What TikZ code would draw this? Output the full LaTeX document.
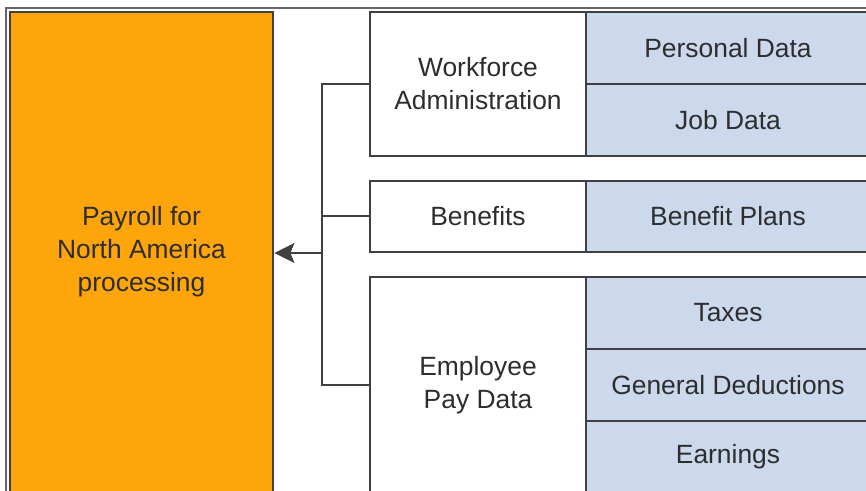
\documentclass[tikz,border=0pt]{standalone}
\usepackage{fontspec}
\setmainfont{Liberation Sans}
\usepackage{xcolor}
\usetikzlibrary{arrows.meta,positioning}
\definecolor{payorange}{RGB}{255,165,12}
\definecolor{cellblue}{RGB}{204,217,236}
\definecolor{edgegray}{RGB}{64,64,64}
\definecolor{textgray}{RGB}{45,45,45}

\begin{document}
\begin{tikzpicture}[
    x=0.5pt,y=-0.5pt,
    every node/.style={font=\fontsize{13.2}{16.5}\selectfont,text=textgray,align=center,inner sep=0pt},
    target/.style={rectangle,draw=edgegray,fill=payorange,line width=1.4pt,
      minimum width=131.5pt,minimum height=240pt},
    group/.style={rectangle,draw=edgegray,fill=white,line width=1.2pt,minimum width=108pt},
    item/.style={rectangle,draw=edgegray,fill=cellblue,line width=1.2pt,
      minimum width=142pt,minimum height=36pt},
    link/.style={draw=edgegray,line width=1pt},
    arrow/.style={link,-{Stealth[length=10pt,width=10pt,inset=2pt]}}
  ]
    \useasboundingbox (0,0) rectangle (866,491);
    \clip (0,0) rectangle (866,491);
    \draw[gray!80!black,line width=0.7pt] (6,8) rectangle (900,520);

    \node[target] (payroll) at (141.5,252) {Payroll for\\North America\\processing};

    \node[group,minimum height=72pt] (wfa) at (478,84) {Workforce\\Administration};
    \node[item] (personal) at (728,48) {Personal Data};
    \node[item] (job) at (728,120) {Job Data};

    \node[group,minimum height=35.5pt] (ben) at (478,216.5) {Benefits};
    \node[item,minimum height=35.5pt] (plans) at (728,216.5) {Benefit Plans};

    \node[group,minimum height=108pt] (emp) at (478,385) {Employee\\Pay Data};
    \node[item] (taxes) at (728,313) {Taxes};
    \node[item] (deduct) at (728,385) {General Deductions};
    \node[item] (earn) at (728,457) {Earnings};

    \coordinate (bus) at (322,253);
    \draw[link] (wfa.west) -| (bus);
    \draw[link] (emp.west) -| (bus);
    \draw[link] (ben.west) -- (ben.west -| bus);
    \draw[arrow] (bus) -- (bus -| payroll.east);
  \end{tikzpicture}
\end{document}
